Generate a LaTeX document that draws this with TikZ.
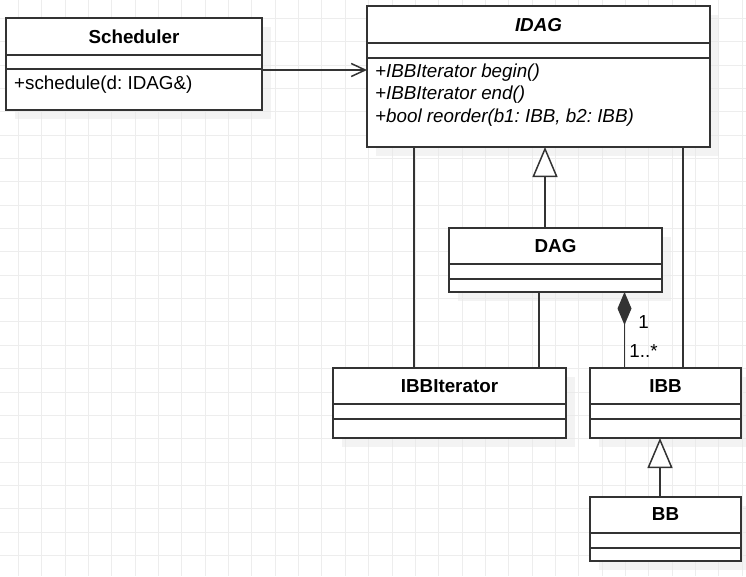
\documentclass[tikz,border=0pt]{standalone}
\usepackage{fontspec}
\setmainfont{Liberation Sans}
\usetikzlibrary{arrows.meta,shadows}
\frenchspacing

\begin{document}
\begin{tikzpicture}[x=1pt, y=-1pt, font=\fontsize{18.8}{22.5}\selectfont,
  classbox/.style={draw=black!80, line width=1.5pt, fill=white, inner sep=0pt, outer sep=0pt, anchor=north west,
    drop shadow={shadow xshift=9pt, shadow yshift=-9pt, fill=black!9, opacity=0.5}},
  divider/.style={draw=black!80, line width=1.5pt},
  link/.style={draw=black!80, line width=1.5pt},
  gridline/.style={draw=black!7, line width=0.8pt},
  title/.style={font=\fontsize{18.8}{22.5}\selectfont\bfseries},
  member/.style={anchor=west, inner sep=0pt},
  inherit/.style={-{Triangle[length=30pt, width=25pt, fill=white]}}]
  \useasboundingbox (0,0) rectangle (746,576);
  % background grid
  \foreach \k in {0,...,31} \draw[gridline] ({18.3+23.35*\k},0) -- ++(0,576);
  \foreach \k in {0,...,23} \draw[gridline] (0,{18.3+23.35*\k}) -- ++(746,0);

  % classes
  \node[classbox, minimum width=256pt, minimum height=92pt] (sched) at (6,18) {};
  \node[classbox, minimum width=343pt, minimum height=141pt] (idag) at (367,6) {};
  \node[classbox, minimum width=213pt, minimum height=64pt] (dag) at (449,228) {};
  \node[classbox, minimum width=233pt, minimum height=70pt] (iter) at (333,368) {};
  \node[classbox, minimum width=151pt, minimum height=70pt] (ibb) at (590,368) {};
  \node[classbox, minimum width=151pt, minimum height=64pt] (bb) at (590,497) {};
  \foreach \c/\a/\b in {sched/37/51, idag/37/52, dag/36/51, iter/36/51, ibb/36/51, bb/36/51} {
    \draw[divider] ([yshift=-\a pt]\c.north west) -- ([yshift=-\a pt]\c.north east);
    \draw[divider] ([yshift=-\b pt]\c.north west) -- ([yshift=-\b pt]\c.north east);
  }

  \node[title] (schedname) at ([yshift=-18.5pt]sched.north) {Scheduler};
  \node[member] (schedop) at ([xshift=8pt, yshift=-66.5pt]sched.north west) {+schedule(d: IDAG\&)};
  \node[title] (idagname) at ([yshift=-19pt]idag.north) {\itshape IDAG};
  \node[member] (idagbegin) at ([xshift=8pt, yshift=-66.3pt]idag.north west) {\itshape +IBBIterator begin()};
  \node[member] (idagend) at ([xshift=8pt, yshift=-89pt]idag.north west) {\itshape +IBBIterator end()};
  \node[member] (idagreorder) at ([xshift=8pt, yshift=-111.3pt]idag.north west) {\itshape +bool reorder(b1: IBB, b2: IBB)};
  \node[title] (dagname) at ([yshift=-18pt]dag.north) {DAG};
  \node[title] (itername) at ([yshift=-18pt]iter.north) {IBBIterator};
  \node[title] (ibbname) at ([yshift=-18pt]ibb.north) {IBB};
  \node[title] (bbname) at ([yshift=-17pt]bb.north) {BB};

  % relations
  \draw[link, -{Straight Barb[length=14pt, width=13pt]}] ([yshift=-52pt]sched.north east) -- ([yshift=-64pt]idag.north west);
  \draw[link, inherit] ([xshift=96pt]dag.north west) -- ([xshift=178pt]idag.south west);
  \draw[link] ([xshift=47pt]idag.south west) -- ([xshift=81pt]iter.north west);
  \draw[link] ([xshift=-27pt]idag.south east) -- ([xshift=93pt]ibb.north west);
  \draw[link] ([xshift=90pt]dag.south west) -- ([xshift=206pt]iter.north west);
  \draw[link, {Diamond[length=33pt, width=14pt]}-] ([xshift=175.5pt]dag.south west)
    -- node[pos=0.39, xshift=19pt] (onelabel) {1} node[pos=0.78, xshift=19pt] (manylabel) {1..*}
    ([xshift=34.5pt]ibb.north west);
  \draw[link, inherit] ([xshift=70pt]bb.north west) -- ([xshift=70pt]ibb.south west);
\end{tikzpicture}
\end{document}
